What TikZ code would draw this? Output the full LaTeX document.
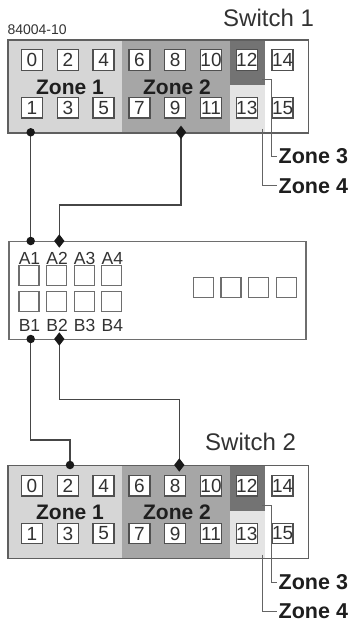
\documentclass[tikz,border=0pt]{standalone}
\usepackage{fontspec}
\setmainfont{Liberation Sans}
\usetikzlibrary{shapes.geometric}
\definecolor{zoneA}{RGB}{214,214,214}
\definecolor{zoneB}{RGB}{166,166,166}
\definecolor{zoneC}{RGB}{115,115,115}
\definecolor{zoneD}{RGB}{228,228,228}
\definecolor{frameC}{RGB}{95,95,95}
\definecolor{portC}{RGB}{80,80,80}
\definecolor{txtC}{RGB}{50,50,50}
\definecolor{txtD}{RGB}{30,30,30}
\definecolor{pnlC}{RGB}{110,110,110}
\definecolor{connC}{RGB}{70,70,70}
\definecolor{leadC}{RGB}{100,100,100}
\begin{document}
\begin{tikzpicture}[x=1pt,y=-1pt,
  swframe/.style={draw=frameC, line width=1.4pt, inner sep=0pt},
  port/.style={draw=portC, fill=white, line width=1.4pt, minimum width=21pt,
    minimum height=20.5pt, inner sep=0pt, text=txtC, font=\fontsize{19}{19}\selectfont},
  zonelbl/.style={font=\bfseries\fontsize{21}{21}\selectfont, text=txtD, inner sep=0pt},
  zonelblb/.style={font=\bfseries\fontsize{21.5}{21.5}\selectfont, text=txtD, inner xsep=1.5pt, inner ysep=0pt, anchor=west},
  leader/.style={draw=leadC, line width=1pt},
  panelbox/.style={draw=pnlC, line width=1.3pt, inner sep=0pt},
  psq/.style={draw=pnlC, fill=white, line width=1.3pt, minimum size=20pt, inner sep=0pt},
  plbl/.style={font=\fontsize{17.5}{17.5}\selectfont, text=txtC, inner sep=0pt},
  conn/.style={draw=connC, line width=1.1pt},
  dotm/.style={circle, fill=black!90, minimum size=8.5pt, inner sep=0pt},
  diam/.style={diamond, fill=black!90, minimum width=10.5pt, minimum height=13.5pt, inner sep=0pt},
  swlbl/.style={font=\fontsize{24}{24}\selectfont, text=txtC, inner sep=0pt, anchor=base west}
]
\useasboundingbox (0,0) rectangle (354,623);

% figure number
\node[anchor=base west, inner sep=0pt, text=txtC, font=\fontsize{14}{14}\selectfont] (fig) at (7.3,35) {84004-10};

% switch labels
\node[swlbl] (lab1) at (223,26.7) {Switch 1};
\node[swlbl] (lab2) at (205,450) {Switch 2};

% switches
\foreach \s/\T in {1/39.3,2/465}{
  \fill[zoneA] (7.3,\T) rectangle (122,\T+93);
  \fill[zoneB] (122,\T) rectangle (229.5,\T+93);
  \fill[zoneC] (229.5,\T) rectangle (265,\T+45.5);
  \fill[zoneD] (229.5,\T+45.5) rectangle (265,\T+93);
  \node[swframe, minimum width=300.7pt, minimum height=93pt, anchor=north west] (sw\s) at (7.3,\T) {};
  \foreach \i in {0,...,7}{
    \pgfmathtruncatemacro{\ev}{2*\i}
    \pgfmathtruncatemacro{\od}{2*\i+1}
    \node[port] (s\s-p\ev) at (32+35.8*\i,\T+20.7) {\ev};
    \node[port] (s\s-p\od) at (32+35.8*\i,\T+68.5) {\od};
  }
  \node[zonelbl] (s\s-zl1) at (70,\T+47.7) {Zone 1};
  \node[zonelbl] (s\s-zl2) at (177,\T+47.7) {Zone 2};
  \coordinate (s\s-c3) at (262,\T+40.7);
  \coordinate (s\s-c4) at (262.5,\T+89.5);
  \node[zonelblb] (s\s-l3) at (277,\T+117) {Zone 3};
  \node[zonelblb] (s\s-l4) at (277,\T+146.5) {Zone 4};
  \draw[leader] (s\s-c3) -- (271,\T+40.7) |- (s\s-l3.west);
  \draw[leader] (s\s-c4) |- (s\s-l4.west);
}

% panel
\node[panelbox, minimum width=297pt, minimum height=98pt, anchor=north west] (pnl) at (8.3,241) {};
\foreach \i in {1,...,4}{
  \node[psq] (pa\i) at (29+27.6*\i-27.6,275.5) {};
  \node[psq] (pb\i) at (29+27.6*\i-27.6,301.5) {};
  \node[plbl] (la\i) at (29.5+27.6*\i-27.6,258) {A\i};
  \node[plbl] (lb\i) at (29.5+27.6*\i-27.6,325.5) {B\i};
  \node[psq] (pr\i) at (203.5+27.6*\i-27.6,287.5) {};
}

% marker positions
\coordinate (m1) at (30.7,132.3);
\coordinate (m2) at (181,132.3);
\coordinate (a1) at (30.7,241);
\coordinate (a2) at (59.3,241);
\coordinate (b1) at (30.7,339);
\coordinate (b2) at (59.3,339);
\coordinate (c1) at (70,465);
\coordinate (c2) at (179.3,465);

% connectors
\draw[conn] (m1) -- (a1);
\draw[conn] (m2) -- ++(0,72.7) -| (a2);
\draw[conn] (b1) -- ++(0,101) -| (c1);
\draw[conn] (b2) -- ++(0,60.3) -| (c2);

% markers
\node[dotm] (m1d) at (m1) {};
\node[diam] (m2d) at (m2) {};
\node[dotm] (a1d) at (a1) {};
\node[diam] (a2d) at (a2) {};
\node[dotm] (b1d) at (b1) {};
\node[diam] (b2d) at (b2) {};
\node[dotm] (c1d) at (c1) {};
\node[diam] (c2d) at (c2) {};
\end{tikzpicture}
\end{document}
